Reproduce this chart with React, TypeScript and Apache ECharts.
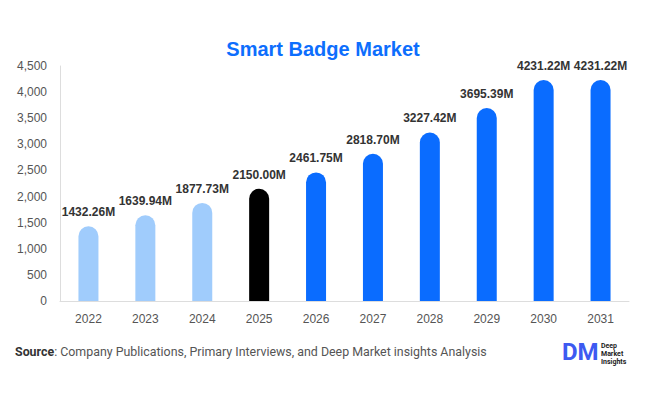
import React, { useEffect, useRef } from "react";
import * as echarts from "echarts";

const categories = ["2022", "2023", "2024", "2025", "2026", "2027", "2028", "2029", "2030", "2031"];
const values = [1432.26, 1639.94, 1877.73, 2150.0, 2461.75, 2818.7, 3227.42, 3695.39, 4231.22, 4231.22];
const barColors = ["#a0ccfc", "#a0ccfc", "#a0ccfc", "#000000", "#0a6cff", "#0a6cff", "#0a6cff", "#0a6cff", "#0a6cff", "#0a6cff"];

const F = "'Liberation Sans', Arial, sans-serif";

export default function App() {
  const ref = useRef<HTMLDivElement>(null);
  useEffect(() => {
    document.body.style.margin = "0";
    if (!ref.current) return;
    const chart = echarts.init(ref.current, null, { renderer: "svg" });
    chart.setOption({
      animation: false,
      backgroundColor: "#ffffff",
      title: {
        text: "Smart Badge Market",
        left: "center",
        top: 34,
        textStyle: { color: "#0d6efd", fontSize: 20, fontWeight: "bold", fontFamily: F },
      },
      grid: { left: 60, right: 17, top: 66, bottom: 93 },
      xAxis: {
        type: "category",
        data: categories,
        axisLine: { lineStyle: { color: "#dddddd" } },
        axisTick: { show: false },
        axisLabel: { color: "#555555", fontSize: 12, margin: 12, fontFamily: F },
      },
      yAxis: {
        type: "value",
        min: 0,
        max: 4500,
        interval: 500,
        axisLine: { show: true, lineStyle: { color: "#dddddd" } },
        axisTick: { show: false },
        splitLine: { show: false },
        axisLabel: {
          color: "#555555",
          fontSize: 12,
          margin: 13,
          fontFamily: F,
          formatter: (v: number) => v.toLocaleString("en-US"),
        },
      },
      series: [
        {
          type: "bar",
          barWidth: 20,
          data: values.map((v, i) => ({ value: v, itemStyle: { color: barColors[i] } })),
          itemStyle: { borderRadius: [10, 10, 0, 0] },
          label: {
            show: true,
            position: "top",
            distance: 8,
            color: "#333333",
            fontWeight: "bold",
            fontSize: 12,
            fontFamily: F,
            formatter: (p: any) => p.value.toFixed(2) + "M",
          },
        },
      ],
      graphic: [
        {
          type: "text",
          left: 15,
          top: 345,
          style: {
            rich: {
              b: { fontFamily: "Roboto", fontSize: 12.4, fontWeight: "bold", fill: "#333333" },
              n: { fontFamily: "Roboto", fontSize: 12.4, fill: "#555555" },
            },
            text: "{b|Source}{n|: Company Publications, Primary Interviews, and Deep Market insights Analysis}",
          },
        },
        {
          type: "text",
          left: 562,
          top: 340,
          style: { text: "DM", fontFamily: "Roboto", fontSize: 24, fontWeight: "bold", fill: "#3d5af1" },
        },
        {
          type: "text",
          left: 601,
          top: 342,
          style: {
            text: "Deep\nMarket\nInsights",
            fontFamily: "Roboto",
            fontSize: 7,
            lineHeight: 8,
            fontWeight: "bold",
            fill: "#222222",
          },
        },
      ],
    });
    return () => chart.dispose();
  }, []);
  return <div ref={ref} style={{ width: 646, height: 394 }} />;
}
